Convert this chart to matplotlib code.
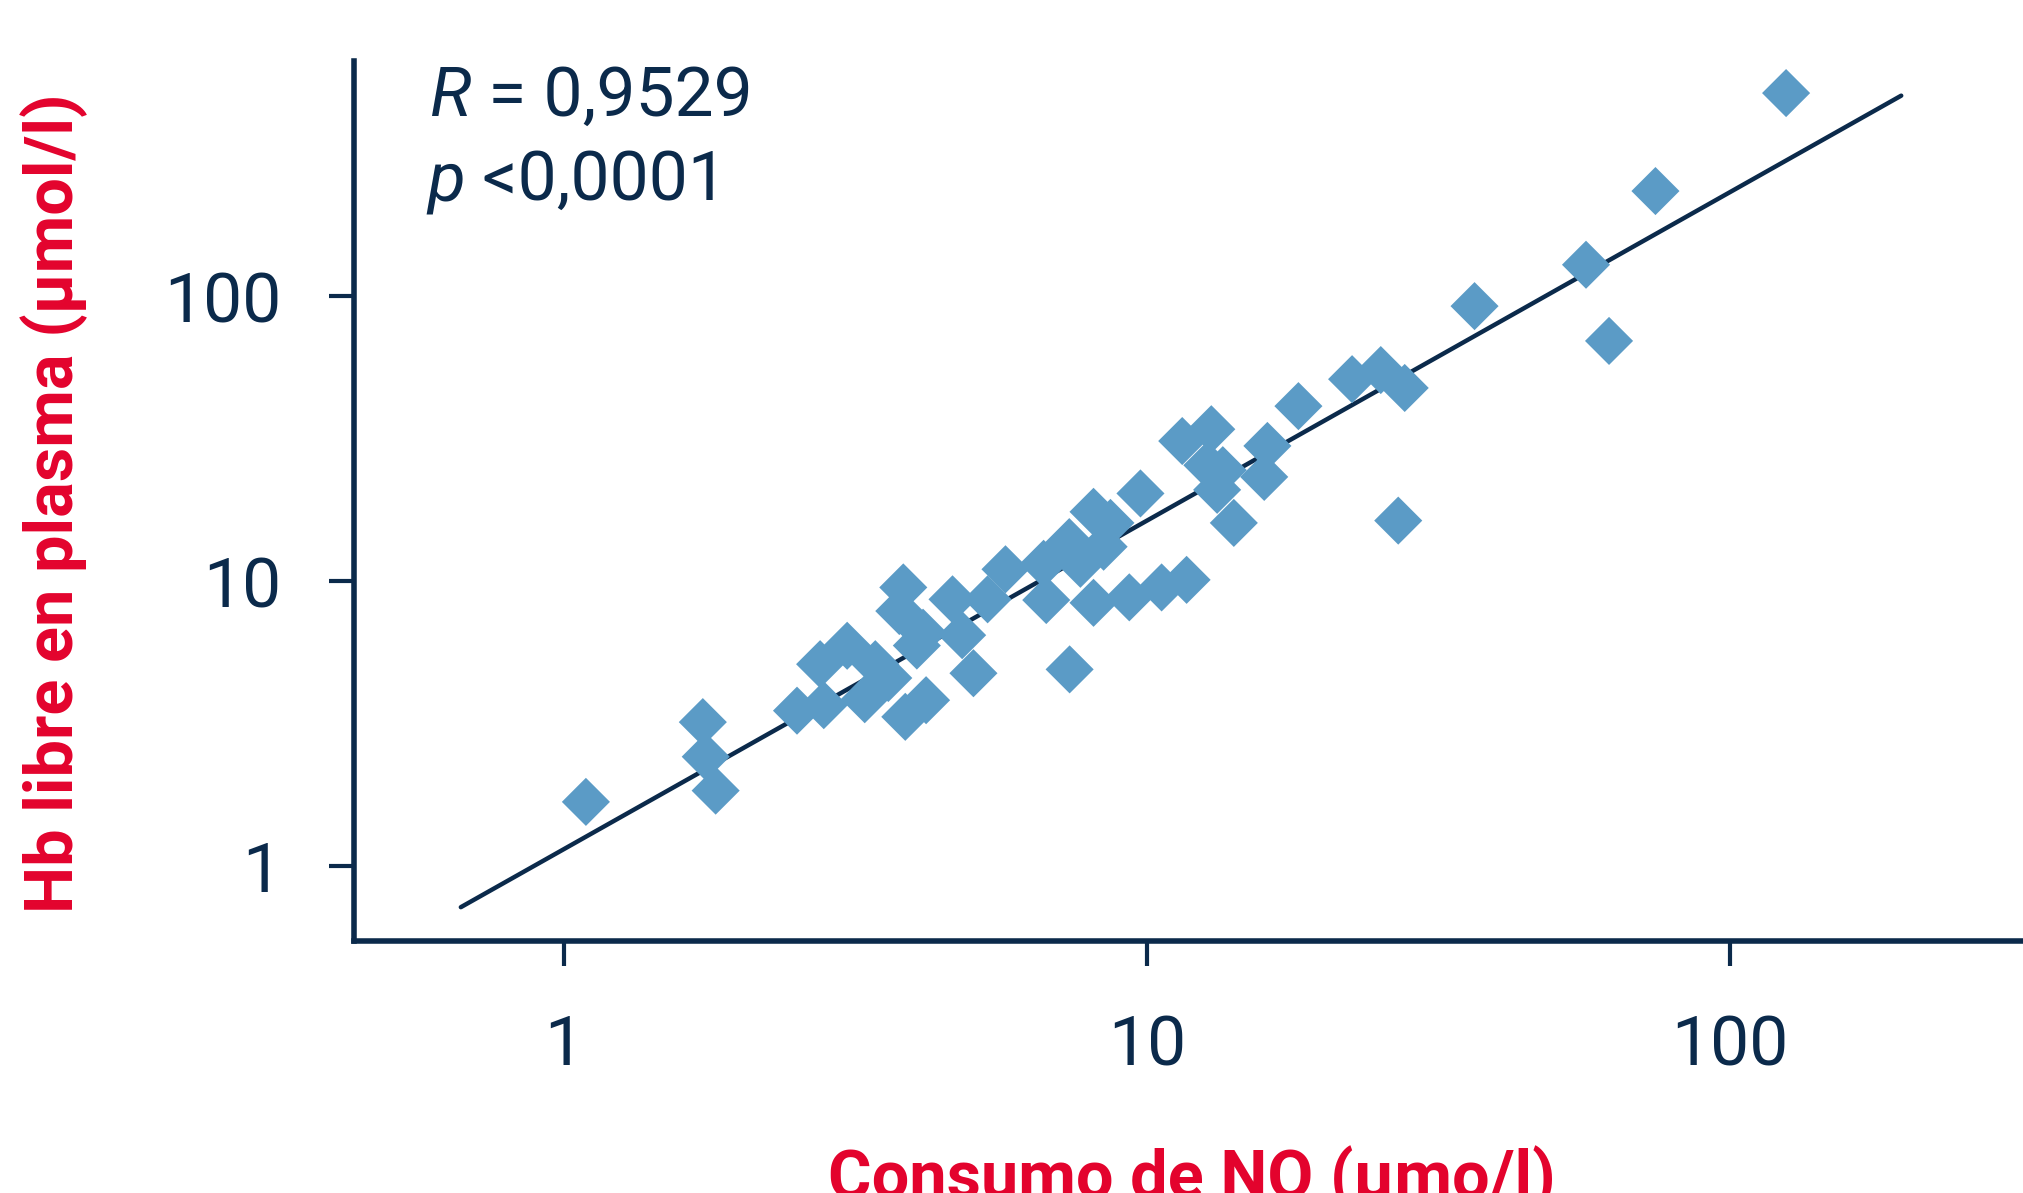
import numpy as np
import matplotlib
matplotlib.use('Agg')
import matplotlib.pyplot as plt
from matplotlib.ticker import NullLocator

# NO consumption (µmol/l) vs free plasma Hb (µmol/l)
no_consumo = [1.09, 1.73, 1.75, 1.82, 2.51, 2.75, 2.79, 3.06, 3.28, 3.42,
              3.60, 3.82, 3.76, 3.85, 4.03, 4.13, 4.18, 4.64, 4.82, 5.04,
              5.33, 5.72, 6.65, 6.72, 7.36, 7.37, 7.69, 8.10, 8.10, 8.66,
              8.43, 9.33, 9.75, 10.6, 11.7, 11.5, 12.9, 12.7, 13.5, 13.2,
              14.1, 16.1, 15.9, 18.2, 22.5, 25.2, 27.7, 27.0, 36.5, 56.7,
              62.1, 74.6, 125.0]
hb_libre = [1.68, 3.20, 2.42, 1.84, 3.51, 5.11, 3.67, 5.93, 3.85, 5.11,
            4.57, 9.50, 7.85, 3.34, 5.94, 6.59, 3.82, 8.63, 6.46, 4.75,
            8.63, 11.0, 11.5, 8.58, 13.7, 4.90, 11.5, 17.5, 8.39, 16.0,
            13.2, 8.77, 20.3, 9.50, 10.1, 31.0, 34.1, 25.5, 24.5, 20.9,
            16.0, 29.8, 23.2, 41.1, 51.1, 55.0, 47.6, 16.3, 92.2, 128.8,
            69.6, 233.6, 515.5]

# regression line y = a * x^b
fit_a = 1.148
fit_b = 1.152
fit_x_range = [0.665, 197.0]

x_ticks = [1, 10, 100]
y_ticks = [1, 10, 100]
tick_labels = ['1', '10', '100']

r_text = '0,9529'
p_text = '<0,0001'
y_label = 'Hb libre en plasma (µmol/l)'
x_label = 'Consumo de NO (µmo/l)'

NAVY = '#0b2a4b'
BLUE = '#5b9bc6'
RED = '#e3032d'

plt.rcParams['font.family'] = ['Roboto', 'DejaVu Sans']

W, H = 2024, 1193
fig = plt.figure(figsize=(W / 100, H / 100), dpi=100)
ax = fig.add_axes([354 / W, 1 - 941 / H, 1 - 354 / W, (941 - 61) / H])
ax.set_xscale('log')
ax.set_yscale('log')
ax.set_xlim(0.436, 320)
ax.set_ylim(0.546, 668)

fx = np.geomspace(fit_x_range[0], fit_x_range[1], 50)
ax.plot(fx, fit_a * fx ** fit_b, color=NAVY, lw=3.2, solid_capstyle='round', zorder=2)
ax.scatter(no_consumo, hb_libre, marker='D', s=600, color=BLUE,
           edgecolors='none', zorder=3, clip_on=False)

ax.set_xticks(x_ticks)
ax.set_xticklabels(tick_labels)
ax.set_yticks(y_ticks)
ax.set_yticklabels(tick_labels)
ax.xaxis.set_minor_locator(NullLocator())
ax.yaxis.set_minor_locator(NullLocator())
ax.tick_params(length=18, width=3, pad=34, color=NAVY, labelcolor=NAVY,
               labelsize=50)

for side in ['top', 'right']:
    ax.spines[side].set_visible(False)
for side in ['left', 'bottom']:
    ax.spines[side].set_linewidth(4)
    ax.spines[side].set_color(NAVY)

# statistics
t1 = fig.text(430 / W, 1 - 116 / H, 'R', style='italic', fontsize=50,
              color=NAVY, va='baseline')
ax.annotate(' = ' + r_text, xy=(1, 0), xycoords=t1, va='bottom',
            fontsize=50, color=NAVY)
t2 = fig.text(427 / W, 1 - 200 / H, 'p', style='italic', fontsize=50,
              color=NAVY, va='baseline')
ax.annotate(' ' + p_text, xy=(1, 0), xycoords=t2, va='bottom',
            fontsize=50, color=NAVY)

label_font = ['Roboto', 'DejaVu Sans']
fig.text(54 / W, 1 - 503 / H, y_label, rotation=90, ha='center', va='center',
         color=RED, fontsize=48, fontweight='bold', family=label_font)
fig.text(1192 / W, -5 / H, x_label, ha='center', va='baseline',
         color=RED, fontsize=48, fontweight='bold', family=label_font)

fig.savefig('out.png', dpi=100)
